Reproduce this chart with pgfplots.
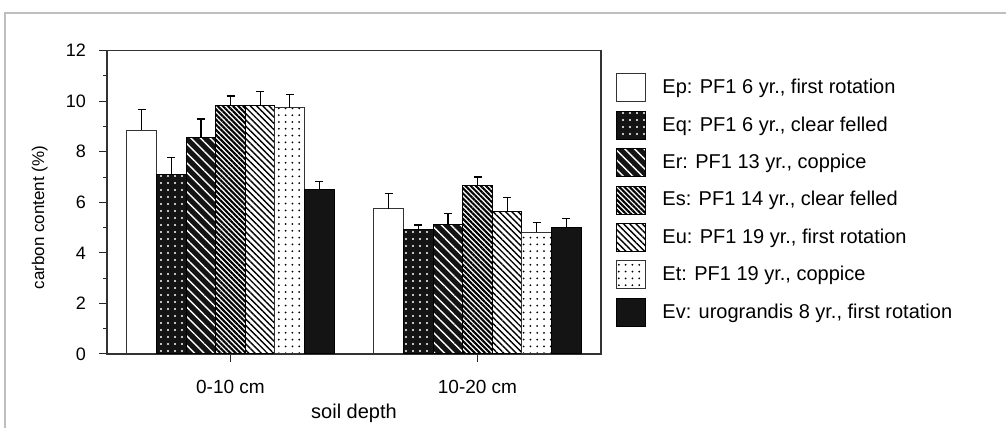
\documentclass[border=0pt]{standalone}
\usepackage{fontspec}
\setmainfont{Liberation Sans}
\usepackage{pgfplots}
\pgfplotsset{compat=1.18}
\usetikzlibrary{patterns,patterns.meta}

\begin{document}
\begin{tikzpicture}
\useasboundingbox (0,0) rectangle (503pt,214pt);
\draw[black!25, line width=0.6pt] (2.5pt,0pt) -- (2.5pt,207.5pt) -- (503pt,207.5pt);
\begin{axis}[
  at={(53.5pt,37pt)}, anchor=south west,
  scale only axis, width=247pt, height=151.65pt,
  ybar=0pt, bar width=14.8pt,
  xmin=-0.5, xmax=1.5,
  ymin=0, ymax=12,
  xtick={0,1}, xticklabels={0-10 cm,10-20 cm},
  ytick={0,2,...,12}, minor ytick={1,3,...,11},
  tick align=outside, xtick pos=bottom, ytick pos=left,
  major tick length=4pt, minor tick length=2pt,
  tick style={black!85, line width=0.5pt},
  /pgf/number format/assume math mode=true,
  yticklabel style={font=\fontsize{9}{10}\selectfont, xshift=-3pt},
  xticklabel style={font=\fontsize{9.5}{11}\selectfont, yshift=-5.5pt},
  axis line style={black!80, line width=0.6pt},
  xlabel={soil depth}, ylabel={carbon content (\%)},
  every axis x label/.style={at={(axis description cs:0.5,-0.195)}, anchor=center, font=\fontsize{10}{12}\selectfont},
  every axis y label/.style={at={(axis description cs:-0.136,0.45)}, anchor=center, rotate=90, font=\fontsize{8.5}{10}\selectfont},
  legend cell align=left,
  legend style={at={(1.0304,0.9265)}, anchor=north west, draw=none, fill=none,
    inner sep=0pt, row sep=4.2pt, column sep=8pt,
    font=\fontsize{10}{12}\selectfont,
    nodes={inner sep=0pt}},
  legend image code/.code={\draw[#1] (0pt,-7pt) rectangle (14.5pt,7pt);},
  error bars/y dir=plus, error bars/y explicit,
  error bars/error bar style={black, line width=0.6pt, solid},
  error bars/error mark options={black, mark size=2pt, line width=0.6pt, rotate=90},
]
\addplot[draw=black!80, line width=0.5pt, fill=white]
  coordinates {(0,8.86) +- (0,0.80) (1,5.74) +- (0,0.62)};
\addlegendentry{Ep: PF1 6 yr., first rotation}
\addplot[draw=black, line width=0.5pt, fill=black!92,
  postaction={pattern={Dots[distance=3.5pt,radius=0.6pt]}, pattern color=white}]
  coordinates {(0,7.12) +- (0,0.65) (1,4.93) +- (0,0.17)};
\addlegendentry{Eq: PF1 6 yr., clear felled}
\addplot[draw=black, line width=0.5pt, fill=black!92,
  postaction={pattern={Lines[angle=-45,distance=3.4pt,line width=0.7pt]}, pattern color=white}]
  coordinates {(0,8.58) +- (0,0.72) (1,5.13) +- (0,0.44)};
\addlegendentry{Er: PF1 13 yr., coppice}
\addplot[draw=black, line width=0.5pt, fill=white,
  postaction={pattern={Lines[angle=-45,distance=1.8pt,line width=1.05pt]}, pattern color=black}]
  coordinates {(0,9.83) +- (0,0.38) (1,6.66) +- (0,0.34)};
\addlegendentry{Es: PF1 14 yr., clear felled}
\addplot[draw=black, line width=0.5pt, fill=white,
  postaction={pattern={Lines[angle=-45,distance=2.2pt,line width=0.7pt]}, pattern color=black}]
  coordinates {(0,9.83) +- (0,0.55) (1,5.63) +- (0,0.56)};
\addlegendentry{Eu: PF1 19 yr., first rotation}
\addplot[draw=black!80, line width=0.5pt, fill=white,
  postaction={pattern={Dots[distance=3.4pt,radius=0.5pt]}, pattern color=black}]
  coordinates {(0,9.75) +- (0,0.53) (1,4.82) +- (0,0.38)};
\addlegendentry{Et: PF1 19 yr., coppice}
\addplot[draw=black, line width=0.5pt, fill=black!92]
  coordinates {(0,6.49) +- (0,0.33) (1,5.00) +- (0,0.37)};
\addlegendentry{Ev: urograndis 8 yr., first rotation}
\end{axis}
\end{tikzpicture}
\end{document}
